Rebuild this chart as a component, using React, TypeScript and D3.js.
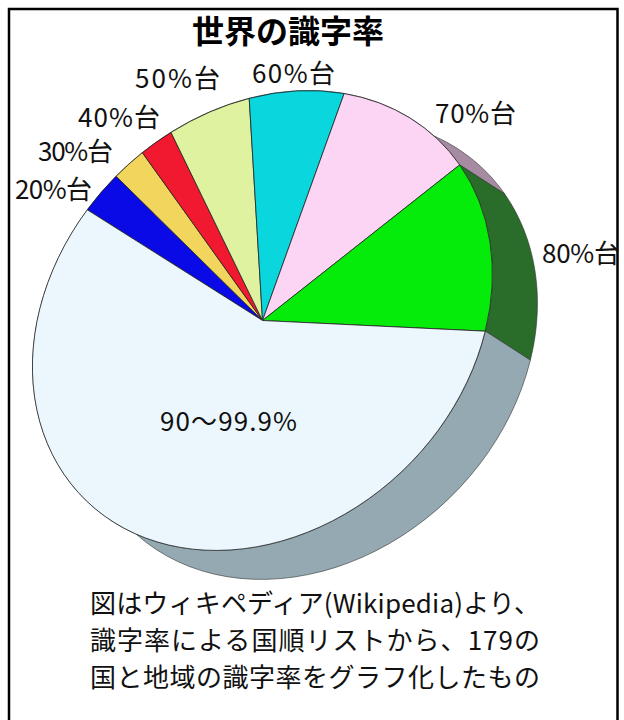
import * as d3 from "d3";

const WIDTH = 624;
const HEIGHT = 720;
const FONT = "'Noto Sans CJK JP', sans-serif";

// number of countries per band (179 in total)
const bands = ["20%台", "30%台", "40%台", "50%台", "60%台", "70%台", "80%台", "90～99.9%"];
const countryCounts = [5, 4, 4, 10, 12, 19, 22.5, 102.5];
const topColors = ["#0a0ae6", "#f2d55c", "#f0192f", "#dff2a0", "#0ad6de", "#fbd5f3", "#06ec0a", "#ebf7fd"];
const sideColors = ["#0a0a80", "#8a7a30", "#801020", "#80906a", "#0a7a80", "#a68ba3", "#2a6d2a", "#95a9b2"];
const noteLines = [
  "図はウィキペディア(Wikipedia)より、",
  "識字率による国順リストから、179の",
  "国と地域の識字率をグラフ化したもの",
];

// the pie is a tilted ellipse with its long axis pointing up-right
const CENTER = { x: 262.5, y: 320.5 };
const RX = 205.5;
const RY = 252;
const TILT = 45;
const DEPTH = { x: 45, y: 29 };
const START = (-100.4 * Math.PI) / 180;

// label placement, the source text is spaced wider than the font here
const LABELS = [
  { x: 53.5, y: 199, w: 77 },
  { x: 75.5, y: 161, w: 75 },
  { x: 119, y: 127, w: 82 },
  { x: 177.5, y: 88, w: 85 },
  { x: 293.5, y: 83, w: 83 },
  { x: 475.5, y: 123, w: 81 },
  { x: 581, y: 263, w: 78 },
  { x: 228.5, y: 431, w: 137 },
];

const pie = d3
  .pie<number>()
  .sort(null)
  .startAngle(START)
  .endAngle(START + 2 * Math.PI);
const slices = pie(countryCounts);
const arc = d3.arc<d3.PieArcDatum<number>>().innerRadius(0).outerRadius(1);

// point on the ellipse outline for a d3 pie angle
const rim = (a: number): [number, number] => {
  const t = (TILT * Math.PI) / 180;
  const px = RX * Math.sin(a);
  const py = -RY * Math.cos(a);
  return [CENTER.x + px * Math.cos(t) - py * Math.sin(t), CENTER.y + px * Math.sin(t) + py * Math.cos(t)];
};

const sidePath = (a0: number, a1: number) => {
  const steps = d3.range(0, 61).map((i) => a0 + ((a1 - a0) * i) / 60);
  const near = steps.map(rim);
  const far = steps
    .map(rim)
    .map(([x, y]): [number, number] => [x + DEPTH.x, y + DEPTH.y])
    .reverse();
  return d3.line()([...near, ...far]) + "Z";
};

export default function App() {
  return (
    <svg
      width={WIDTH}
      height={HEIGHT}
      style={{ position: "absolute", left: 0, top: 0, display: "block", background: "#fff" }}
      fontFamily={FONT}
    >
      <rect x={9} y={9} width={608.5} height={730} fill="none" stroke="#000" strokeWidth={2.5} />
      <text x={288} y={43} textAnchor="middle" fontSize={32} fontWeight={700} fill="#000">
        世界の識字率
      </text>

      {/* extruded rim, drawn first so the top face covers it */}
      <g>
        {slices.map((s, i) => (
          <path
            key={bands[i]}
            d={sidePath(s.startAngle, s.endAngle)}
            fill={sideColors[i]}
            stroke="#333"
            strokeWidth={0.6}
          />
        ))}
      </g>

      <g transform={`translate(${CENTER.x},${CENTER.y}) rotate(${TILT}) scale(${RX},${RY})`}>
        {slices.map((s, i) => (
          <path
            key={bands[i]}
            d={arc(s) as string}
            fill={topColors[i]}
            stroke="#222"
            strokeWidth={0.8}
            vectorEffect="non-scaling-stroke"
          />
        ))}
      </g>

      {bands.map((b, i) => (
        <text
          key={b}
          x={LABELS[i].x}
          y={LABELS[i].y}
          textAnchor="middle"
          fontSize={26}
          fill="#111"
          textLength={LABELS[i].w}
          lengthAdjust="spacing"
        >
          {b}
        </text>
      ))}

      {noteLines.map((line, i) => (
        <text
          key={line}
          x={315}
          y={613 + i * 37}
          textAnchor="middle"
          fontSize={26}
          fill="#111"
          textLength={450}
          lengthAdjust="spacing"
        >
          {line}
        </text>
      ))}
    </svg>
  );
}
